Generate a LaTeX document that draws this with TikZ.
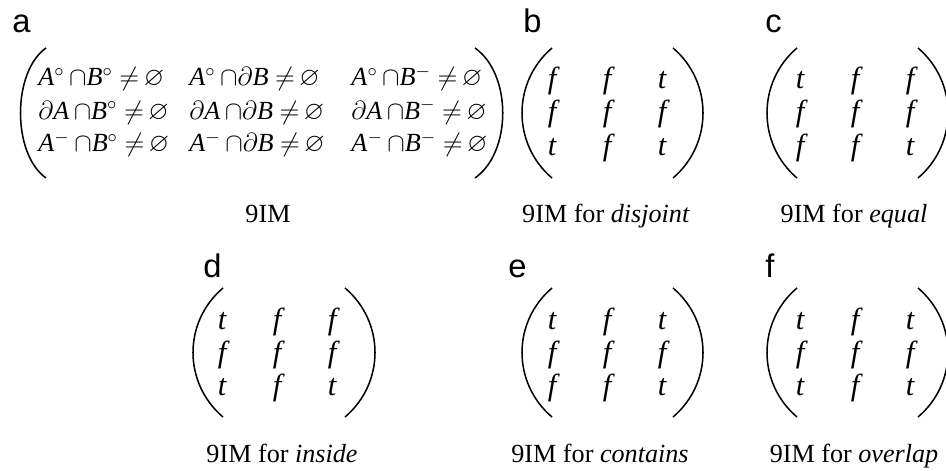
\documentclass[tikz,border=0pt]{standalone}
\usepackage{amssymb}
\usepackage{fontspec}
\setmainfont{Liberation Serif}
\newfontfamily\panelfont{Liberation Sans}
\usepackage{tikz}
\usetikzlibrary{positioning}
\newcommand{\setint}[1]{\textit{#1}$^{\circ}$}
\newcommand{\setbnd}[1]{$\partial$\textit{#1}}
\newcommand{\setext}[1]{\textit{#1}$^{-}$}
\tikzset{
  panellabel/.style={anchor=base west, inner sep=0pt, font=\panelfont\fontsize{15}{15}\selectfont},
  entry/.style={anchor=base, inner sep=0pt, font=\itshape\fontsize{14}{14}\selectfont},
  setentry/.style={anchor=base west, inner sep=0pt, font=\fontsize{12}{12}\selectfont},
  caption/.style={anchor=base, inner sep=0pt, font=\fontsize{12}{12}\selectfont},
  paren/.style={line width=0.7pt}
}

\begin{document}
\begin{tikzpicture}[x=0.459pt, y=-0.459pt]
\useasboundingbox (0,0) rectangle (946,471);

% Panel labels
\node[panellabel] (la) at (12,33)  {a};
\node[panellabel] (lb) at (523,33) {b};
\node[panellabel] (lc) at (765,33) {c};
\node[panellabel] (ld) at (203,277) {d};
\node[panellabel] (le) at (508,277) {e};
\node[panellabel] (lf) at (765,277) {f};

% 9IM of set intersections
\foreach \sa/\y [count=\r] in {{\setint{A}}/86, {\setbnd{A}}/119, {\setext{A}}/152}
  \foreach \sb/\x [count=\c] in {{\setint{B}}/38, {\setbnd{B}}/189, {\setext{B}}/351}
    \node[setentry] (a\r\c) at (\x,\y) {\sa\,$\cap$\sb\ $\neq$\,$\varnothing$};

% Truth matrices
\foreach \p/\x/\y/\vals in {b/552/89/{f,f,t,f,f,f,t,f,t}, c/800/89/{t,f,f,f,f,f,f,f,t},
    d/222/329/{t,f,f,f,f,f,t,f,t}, e/552/329/{t,f,t,f,f,f,f,f,t}, f/800/329/{t,f,t,f,f,f,t,f,t}}
  \foreach \v [count=\i from 0] in \vals {
    \pgfmathtruncatemacro{\col}{mod(\i,3)}
    \pgfmathtruncatemacro{\row}{div(\i,3)}
    \node[entry] (\p\row\col) at ({\x+55*\col},{\y+33*\row}) {\v};
  };

% Brackets
\draw[paren] (46,48) .. controls +(-34,24) and +(-34,-24) .. (46,178);
\draw[paren] (475,48) .. controls +(37,26) and +(37,-26) .. (475,178);
\draw[paren] (552,48) .. controls +(-40,34) and +(-40,-34) .. (552,178);
\draw[paren] (673,48) .. controls +(40,34) and +(40,-34) .. (673,178);
\draw[paren] (797,48) .. controls +(-40,34) and +(-40,-34) .. (797,178);
\draw[paren] (918,48) .. controls +(40,34) and +(40,-34) .. (918,178);
\draw[paren] (223,288) .. controls +(-40,34) and +(-40,-34) .. (223,417);
\draw[paren] (345,288) .. controls +(40,34) and +(40,-34) .. (345,417);
\draw[paren] (552,288) .. controls +(-40,34) and +(-40,-34) .. (552,417);
\draw[paren] (673,288) .. controls +(40,34) and +(40,-34) .. (673,417);
\draw[paren] (797,288) .. controls +(-40,34) and +(-40,-34) .. (797,417);
\draw[paren] (918,288) .. controls +(40,34) and +(40,-34) .. (918,417);

% Captions
\node[caption] (ca) at (268,222) {9IM};
\node[caption] (cb) at (606,222) {9IM for \textit{disjoint}};
\node[caption] (cc) at (854,222) {9IM for \textit{equal}};
\node[caption] (cd) at (282,462) {9IM for \textit{inside}};
\node[caption] (ce) at (600,462) {9IM for \textit{contains}};
\node[caption] (cf) at (854,462) {9IM for \textit{overlap}};

\end{tikzpicture}
\end{document}
